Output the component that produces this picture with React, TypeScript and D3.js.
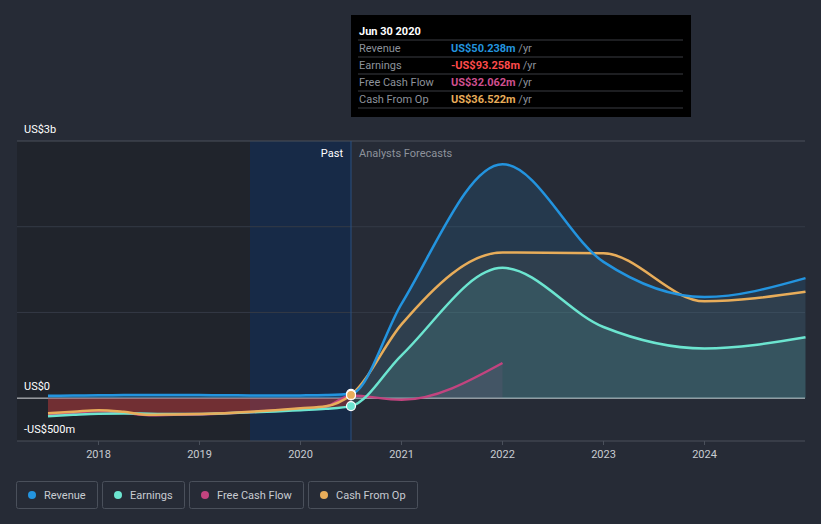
import React from 'react';
import * as d3 from 'd3';

// decimal years, values in US$m
const pastDates = [2017.5, 2017.75, 2018, 2018.25, 2018.5, 2018.75, 2019, 2019.25, 2019.5, 2019.75, 2020, 2020.25, 2020.5];
const revenuePast = [28, 30, 33, 36, 38, 38, 36, 34, 32, 30, 32, 36, 50];
const earningsPast = [-210, -195, -182, -178, -182, -186, -185, -175, -165, -155, -140, -125, -93];
const cfoPast = [-175, -160, -140, -160, -195, -190, -185, -175, -160, -140, -118, -95, 37];
const fcfPast = [-190, -172, -150, -170, -200, -195, -190, -180, -165, -145, -125, -100, 32];

// forecasts continue from the last past point (2020.5)
const forecastDates = [2021, 2022, 2023, 2024, 2025];
const revenueFc = [1100, 2730, 1590, 1180, 1400];
const earningsFc = [500, 1520, 830, 580, 710];
const cfoFc = [860, 1700, 1690, 1130, 1240];
const fcfFcDates = [2021, 2022];
const fcfFc = [-20, 410];

const yearTicks = [2018, 2019, 2020, 2021, 2022, 2023, 2024];
const yGrid = [3000, 2000, 1000, 0, -500];

const tooltipRows = [
  { label: 'Revenue', value: 'US$50.238m', color: '#2394df' },
  { label: 'Earnings', value: '-US$93.258m', color: '#ff4b4b' },
  { label: 'Free Cash Flow', value: 'US$32.062m', color: '#cf4f8f' },
  { label: 'Cash From Op', value: 'US$36.522m', color: '#e8ad5a' },
];

const legendItems = [
  { label: 'Revenue', color: '#2394df' },
  { label: 'Earnings', color: '#6ce5d0' },
  { label: 'Free Cash Flow', color: '#c2447f' },
  { label: 'Cash From Op', color: '#e8ad5a' },
];

const W = 821;
const H = 524;
const BG = '#262b36';

function textWidth(s: string) {
  const c = document.createElement('canvas').getContext('2d');
  if (!c) return s.length * 5.8;
  c.font = '11px Roboto';
  return c.measureText(s).width;
}

type P = [number, number];

export default function App() {
  const x = d3.scaleLinear().domain([2017.5, 2025]).range([48, 805.5]);
  const y = d3.scaleLinear().domain([-500, 3000]).range([441, 141]);
  const pastX = x(2020.5);

  const zip = (ds: number[], vs: number[]) => ds.map((d, i) => [d, vs[i]] as P);
  const line = d3.line<P>().x(d => x(d[0])).y(d => y(d[1])).curve(d3.curveMonotoneX);
  const area = d3.area<P>().x(d => x(d[0])).y0(y(0)).y1(d => y(d[1])).curve(d3.curveMonotoneX);

  const series = [
    { past: zip(pastDates, fcfPast), fc: zip(fcfFcDates, fcfFc), color: '#c2447f', op: 0.1, fop: 0.12 },
    { past: zip(pastDates, earningsPast), fc: zip(forecastDates, earningsFc), color: '#6ce5d0', op: 0.0, fop: 0.14 },
    { past: zip(pastDates, cfoPast), fc: zip(forecastDates, cfoFc), color: '#e8ad5a', op: 0.0, fop: 0.06 },
    { past: zip(pastDates, revenuePast), fc: zip(forecastDates, revenueFc), color: '#2394df', op: 0.3, fop: 0.14 },
  ];

  let lx = 16;
  const legend = legendItems.map(it => {
    const w = Math.round(textWidth(it.label)) + 39;
    const g = { ...it, x: lx, w };
    lx += w + 5;
    return g;
  });

  return (
    <svg width={W} height={H} style={{ position: 'absolute', left: 0, top: 0, fontFamily: 'Roboto, sans-serif' }}>
      <defs>
        <clipPath id="pastClip"><rect x={0} y={0} width={pastX} height={H} /></clipPath>
        <clipPath id="fcClip"><rect x={pastX} y={0} width={W - pastX} height={H} /></clipPath>
      </defs>
      <rect width={W} height={H} fill={BG} />
      {/* past shading */}
      <rect x={17} y={141} width={x(2019.5) - 17} height={300} fill="#20242c" />
      <rect x={x(2019.5)} y={141} width={pastX - x(2019.5)} height={300} fill="#172a47" />

      {yGrid.map(v => (
        <line key={v} x1={17} x2={805} y1={y(v)} y2={y(v)}
          stroke={v === 0 ? '#d8dadd' : (v === 3000 || v === -500 ? '#4a505b' : '#343a46')} strokeWidth={1} />
      ))}
      <line x1={pastX} x2={pastX} y1={141} y2={441} stroke="#2b5080" strokeWidth={1} />

      {/* negative earnings fill in the past */}
      <path d={area(zip(pastDates, earningsPast)) || ''} fill="#c0392b" fillOpacity={0.45} />
      {series.map((s, i) => {
        const all = s.past.concat(s.fc);
        return (
          <g key={'a' + i}>
            <path d={area(all) || ''} fill={s.color} fillOpacity={s.op} clipPath="url(#pastClip)" />
            <path d={area(all) || ''} fill={s.color} fillOpacity={s.fop} clipPath="url(#fcClip)" />
          </g>
        );
      })}
      {series.map((s, i) => (
        <path key={'l' + i} d={line(s.past.concat(s.fc)) || ''} fill="none" stroke={s.color} strokeWidth={2.5} />
      ))}
      <circle cx={pastX} cy={y(50)} r={4.5} fill="#2394df" stroke="#fff" strokeWidth={1.2} />
      <circle cx={pastX} cy={y(32)} r={4.5} fill="#c2447f" stroke="#fff" strokeWidth={1.2} />
      <circle cx={pastX} cy={y(37)} r={4.5} fill="#e8ad5a" stroke="#fff" strokeWidth={1.2} />
      <circle cx={pastX} cy={y(-93)} r={4.5} fill="#6ce5d0" stroke="#fff" strokeWidth={1.2} />

      <text x={pastX - 8} y={157} textAnchor="end" fill="#fff" fontSize={11}>Past</text>
      <text x={pastX + 8} y={157} fill="#8d929b" fontSize={11}>Analysts Forecasts</text>

      <text x={24} y={133} fill="#fff" fontSize={11}>US$3b</text>
      <text x={24} y={390} fill="#fff" fontSize={11}>US$0</text>
      <text x={24} y={433} fill="#fff" fontSize={11}>-US$500m</text>

      {yearTicks.map(t => (
        <g key={t}>
          <line x1={x(t)} x2={x(t)} y1={441} y2={445} stroke="#4a505b" />
          <text x={x(t)} y={458} textAnchor="middle" fill="#c8ccd2" fontSize={11}>{t}</text>
        </g>
      ))}

      {/* tooltip */}
      <rect x={351} y={15} width={340} height={102} fill="#000" />
      <text x={359} y={35} fill="#fff" fontSize={11} fontWeight="bold">Jun 30 2020</text>
      {tooltipRows.map((r, i) => (
        <g key={r.label}>
          <line x1={358} x2={683} y1={40 + i * 17} y2={40 + i * 17} stroke="#3a3d42" />
          <text x={359} y={52 + i * 17} fill="#8d929b" fontSize={11}>{r.label}</text>
          <text x={451} y={52 + i * 17} fontSize={11}>
            <tspan fill={r.color} fontWeight="bold">{r.value}</tspan>
            <tspan fill="#8d929b"> /yr</tspan>
          </text>
        </g>
      ))}
      <line x1={358} x2={683} y1={108} y2={108} stroke="#3a3d42" />

      {/* legend */}
      {legend.map(it => (
        <g key={it.label}>
          <rect x={it.x + 0.5} y={481.5} width={it.w} height={27} rx={2} fill="none" stroke="#4a505b" />
          <circle cx={it.x + 16} cy={495} r={4} fill={it.color} />
          <text x={it.x + 28} y={499} fill="#c8ccd2" fontSize={11}>{it.label}</text>
        </g>
      ))}
    </svg>
  );
}
